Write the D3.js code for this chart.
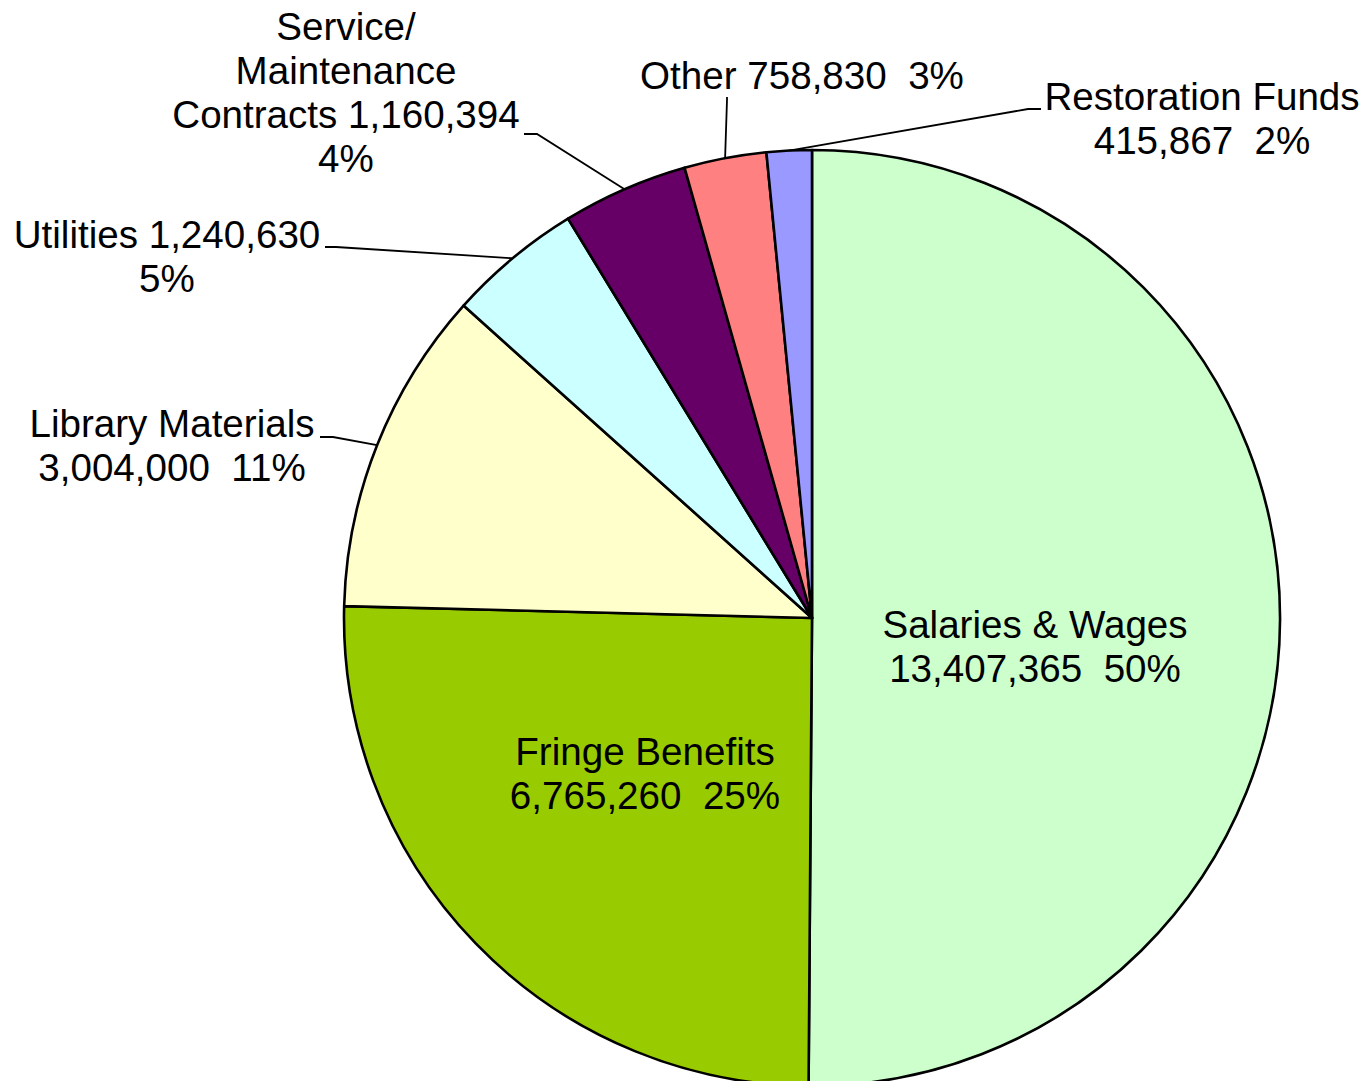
<!DOCTYPE html>
<html>
<head>
<meta charset="utf-8">
<script src="https://cdn.jsdelivr.net/npm/d3@7"></script>
<style>
  body { margin: 0; background: #fff; }
  text { font-family: "Liberation Sans", Arial, sans-serif; font-size: 38.6px; fill: #000; white-space: pre; }
</style>
</head>
<body>
<script>
var width = 1367;
var height = 1081;

// data
var categories = ["Salaries & Wages", "Fringe Benefits", "Library Materials", "Utilities",
    "Service/ Maintenance Contracts", "Other", "Restoration Funds"];
var amounts = [13407365, 6765260, 3004000, 1240630, 1160394, 758830, 415867];
var percents = ["50%", "25%", "11%", "5%", "4%", "3%", "2%"];
var colors = ["#ccffcc", "#99cc00", "#ffffcc", "#ccffff", "#660066", "#ff8080", "#9999ff"];

// label lines (text per line), in the same order as categories
var labelLines = [
    ["Salaries & Wages", "13,407,365  50%"],
    ["Fringe Benefits", "6,765,260  25%"],
    ["Library Materials", "3,004,000  11%"],
    ["Utilities 1,240,630", "5%"],
    ["Service/", "Maintenance", "Contracts 1,160,394", "4%"],
    ["Other 758,830  3%"],
    ["Restoration Funds", "415,867  2%"]
];

// layout of labels: x center, first baseline
var labelPos = [
    [1035, 638], [645, 765], [172, 437], [167, 248], [346, 40], [802, 89], [1202, 110]
];
// leader start and elbow (null = label inside the slice)
var leaders = [
    null, null,
    [[320, 437], [333, 437]],
    [[325, 247], [336, 247]],
    [[524, 134], [537, 134]],
    [[727, 97], [727, 100]],
    [[1041, 109], [1028, 109]]
];

var cx = 812, cy = 618, radius = 468;
var lineH = 44;

var svg = d3.select("body").append("svg")
    .attr("width", width)
    .attr("height", height);

var pie = d3.pie().sort(null).value(function(d) { return d; });
var arcs = pie(amounts);

var arc = d3.arc().innerRadius(0).outerRadius(radius);

var g = svg.append("g").attr("transform", "translate(" + cx + "," + cy + ")");

g.selectAll("path.slice").data(arcs).enter()
    .append("path")
    .classed("slice", true)
    .attr("d", arc)
    .attr("fill", function(d, i) { return colors[i]; })
    .attr("stroke", "#000")
    .attr("stroke-width", 2.6)
    .attr("stroke-linejoin", "round");

//leader lines
arcs.forEach(function(d, i) {
    if (!leaders[i]) return;
    var a = (d.startAngle + d.endAngle) / 2;
    var px = cx + radius * Math.sin(a);
    var py = cy - radius * Math.cos(a);
    var pts = [leaders[i][0], leaders[i][1], [px, py]];
    svg.append("path")
        .attr("d", d3.line()(pts))
        .attr("fill", "none")
        .attr("stroke", "#000")
        .attr("stroke-width", 1.8);
});

//labels
labelLines.forEach(function(lines, i) {
    var t = svg.append("text")
        .attr("text-anchor", "middle");
    lines.forEach(function(s, j) {
        t.append("tspan")
            .attr("x", labelPos[i][0])
            .attr("y", labelPos[i][1] + j * lineH)
            .text(s);
    });
});
</script>
</body>
</html>
